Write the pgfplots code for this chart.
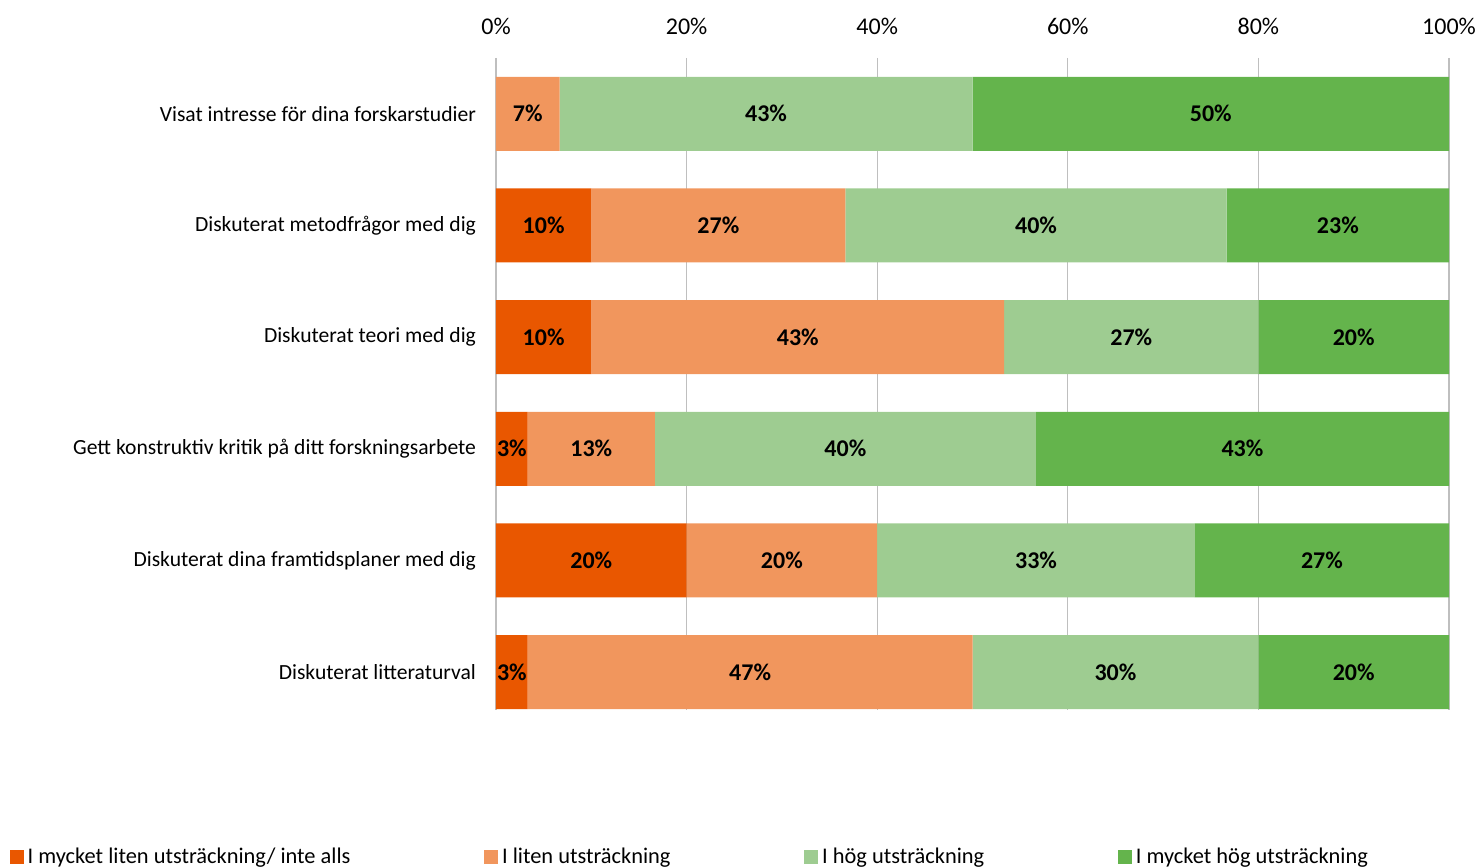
\documentclass[border=0pt]{standalone}
\usepackage{fontspec}
\setmainfont{Carlito}
\usepackage{pgfplots}
\pgfplotsset{compat=1.18}
\definecolor{c1}{RGB}{233,87,0}
\definecolor{c2}{RGB}{241,150,93}
\definecolor{c3}{RGB}{158,204,145}
\definecolor{c4}{RGB}{100,180,76}
\definecolor{gridgray}{RGB}{191,191,191}

\begin{document}
\begin{tikzpicture}
\useasboundingbox (-248pt,-78.5pt) rectangle (493.5pt,355pt);
\begin{axis}[
    xbar stacked,
    scale only axis,
    width=476.5pt, height=326pt,
    xmin=0, xmax=100,
    ymin=-0.5, ymax=5.34,
    y dir=reverse,
    bar width=37pt,
    axis x line*=top, axis y line*=left,
    x axis line style={draw=none},
    y axis line style={draw=none},
    /pgf/number format/assume math mode=true,
    xtick={0,20,...,100},
    xticklabel={\pgfmathprintnumber{\tick}\%},
    xticklabel style={font=\fontsize{12}{14}\selectfont, yshift=8pt},
    ytick={0,...,5},
    yticklabels={Visat intresse för dina forskarstudier,
        Diskuterat metodfrågor med dig,
        Diskuterat teori med dig,
        Gett konstruktiv kritik på ditt forskningsarbete,
        Diskuterat dina framtidsplaner med dig,
        Diskuterat litteraturval},
    yticklabel style={font=\fontsize{10.8}{13}\selectfont, xshift=-6.5pt},
    major tick length=0pt,
    xmajorgrids,
    grid style={gridgray, line width=0.6pt},
    visualization depends on={rawx \as \rawx},
    nodes near coords={\ifdim\rawx pt>1pt \pgfmathprintnumber[fixed,precision=0]{\rawx}\%\fi},
    every node near coord/.append style={anchor=center, black,
        font=\fontsize{12}{14}\selectfont\bfseries},
    legend columns=4,
    legend style={draw=none, fill=none, at={(-0.517,-0.226)}, anchor=west,
        font=\fontsize{11.2}{13}\selectfont,
        /tikz/every even column/.append style={column sep=64.8pt}},
    legend image code/.code={\fill[#1] (0pt,-3.5pt) rectangle (7pt,3.5pt);},
]
\addplot[fill=c1, draw=none] coordinates {(0,0) (10,1) (10,2) (3.33,3) (20,4) (3.33,5)};
\addplot[fill=c2, draw=none] coordinates {(6.67,0) (26.67,1) (43.33,2) (13.33,3) (20,4) (46.67,5)};
\addplot[fill=c3, draw=none] coordinates {(43.33,0) (40,1) (26.67,2) (40,3) (33.33,4) (30,5)};
\addplot[fill=c4, draw=none] coordinates {(50,0) (23.33,1) (20,2) (43.34,3) (26.67,4) (20,5)};
\legend{I mycket liten utsträckning/ inte alls, I liten utsträckning, I hög utsträckning, I mycket hög utsträckning}
\end{axis}
\end{tikzpicture}
\end{document}
